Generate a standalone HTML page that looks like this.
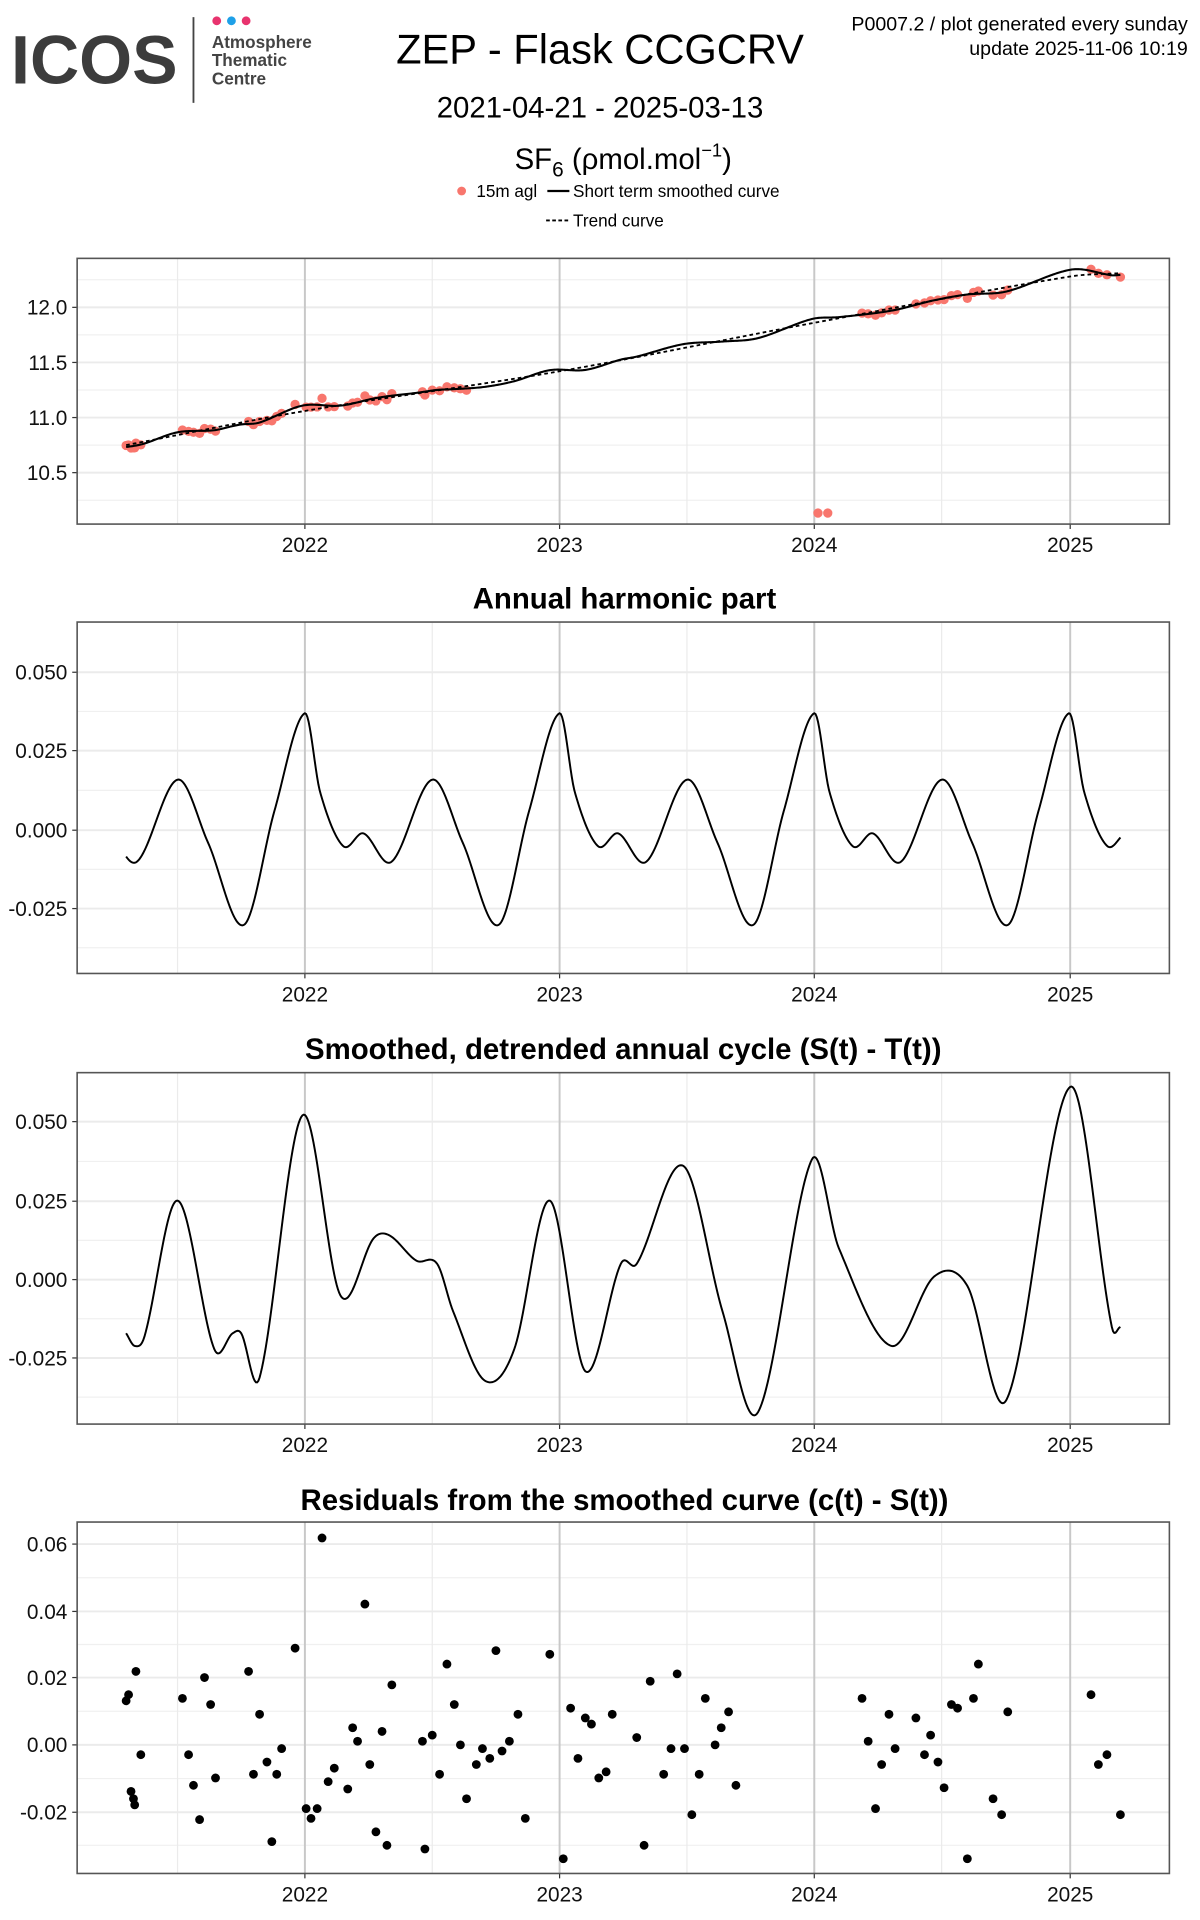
<!DOCTYPE html>
<html><head><meta charset="utf-8"><style>
html,body{margin:0;padding:0;background:#fff;}
svg{display:block;font-family:"Liberation Sans",Arial,sans-serif;}
</style></head><body>
<svg id="s" width="1200" height="1920" viewBox="0 0 980 1568" preserveAspectRatio="none" xmlns="http://www.w3.org/2000/svg">
<rect width="980" height="1568" fill="#fff"/>
<!-- header -->
<text x="9" y="68" font-size="56" font-weight="bold" fill="#3c3c3c" textLength="136" lengthAdjust="spacingAndGlyphs">ICOS</text>
<line x1="158" y1="14" x2="158" y2="84" stroke="#444" stroke-width="1.5"/>
<circle cx="177" cy="17" r="3.6" fill="#e8336e"/><circle cx="189" cy="17" r="3.6" fill="#1ea0e8"/><circle cx="201" cy="17" r="3.6" fill="#e8336e"/>
<text font-size="14" font-weight="bold" fill="#444"><tspan x="173" y="39">Atmosphere</tspan><tspan x="173" y="54">Thematic</tspan><tspan x="173" y="69">Centre</tspan></text>
<text x="490" y="52" font-size="34" text-anchor="middle">ZEP - Flask CCGCRV</text>
<text x="490" y="96" font-size="24" text-anchor="middle">2021-04-21 - 2025-03-13</text>
<text x="509" y="138" font-size="24" text-anchor="middle">SF<tspan font-size="17" dy="6">6</tspan><tspan dy="-6"> (ρmol.mol</tspan><tspan font-size="15" dy="-10">−1</tspan><tspan dy="10">)</tspan></text>
<circle cx="377" cy="156" r="3.6" fill="#f8766d"/>
<text x="389" y="161" font-size="14">15m agl</text>
<line x1="447" y1="156" x2="465" y2="156" stroke="#000" stroke-width="1.8"/>
<text x="468" y="161" font-size="14">Short term smoothed curve</text>
<line x1="446" y1="180" x2="465" y2="180" stroke="#000" stroke-width="1.5" stroke-dasharray="3,2"/>
<text x="468" y="185" font-size="14">Trend curve</text>
<text x="970" y="25" font-size="16" text-anchor="end">P0007.2 / plot generated every sunday</text>
<text x="970" y="45" font-size="16" text-anchor="end">update  2025-11-06 10:19</text>
<!-- panel titles -->
<text x="510" y="497" font-size="24" font-weight="bold" text-anchor="middle">Annual harmonic part</text>
<text x="509" y="865" font-size="24" font-weight="bold" text-anchor="middle">Smoothed, detrended annual cycle (S(t) - T(t))</text>
<text x="510" y="1233" font-size="24" font-weight="bold" text-anchor="middle">Residuals from the smoothed curve (c(t) - S(t))</text>
<g id="g"></g>
</svg>
<script>
var NS="http://www.w3.org/2000/svg",G=document.getElementById("g");
function el(t,a,txt){var e=document.createElementNS(NS,t);for(var k in a)e.setAttribute(k,a[k]);if(txt!=null)e.textContent=txt;G.appendChild(e);return e;}
var yrs={2022:249,2023:457,2024:665,2025:874};
function panel(top,bot,ticks,minors){
  el("rect",{x:63,y:top,width:892,height:bot-top,fill:"#fff"});
  minors.forEach(function(y){el("line",{x1:63,x2:955,y1:y,y2:y,stroke:"#f0f0f0","stroke-width":1});});
  [145,353,561,769].forEach(function(x){el("line",{x1:x,x2:x,y1:top,y2:bot,stroke:"#ebebeb","stroke-width":1});});
  ticks.forEach(function(t){el("line",{x1:63,x2:955,y1:t[1],y2:t[1],stroke:"#ebebeb","stroke-width":1.6});
    el("line",{x1:59,x2:63,y1:t[1],y2:t[1],stroke:"#333"});
    el("text",{x:55,y:t[1]+6,"font-size":17,"text-anchor":"end",fill:"#111"},t[0]);});
  for(var y in yrs){var x=yrs[y];el("line",{x1:x,x2:x,y1:top,y2:bot,stroke:"#c8c8c8","stroke-width":1.6});
    el("line",{x1:x,x2:x,y1:bot,y2:bot+4,stroke:"#333"});
    el("text",{x:x,y:bot+23,"font-size":17,"text-anchor":"middle",fill:"#111"},y);}
}
function frame(top,bot){el("rect",{x:63,y:top,width:892,height:bot-top,fill:"none",stroke:"#555","stroke-width":1.3});}
function cr(pts,x){
  for(var i=0;i<pts.length-1;i++){if(x<=pts[i+1][0])break;}
  if(i>=pts.length-1)i=pts.length-2;
  var p0=pts[Math.max(i-1,0)],p1=pts[i],p2=pts[i+1],p3=pts[Math.min(i+2,pts.length-1)];
  var t=(x-p1[0])/(p2[0]-p1[0]);t=Math.max(0,Math.min(1,t));
  var m1=(p2[1]-p0[1])/(p2[0]-p0[0])*(p2[0]-p1[0]),m2=(p3[1]-p1[1])/(p3[0]-p1[0])*(p2[0]-p1[0]);
  var t2=t*t,t3=t2*t;return (2*t3-3*t2+1)*p1[1]+(t3-2*t2+t)*m1+(-2*t3+3*t2)*p2[1]+(t3-t2)*m2;
}
function path(f,y0,sc,dash,w){var d="";for(var x=103;x<=915;x+=1){d+=(x==103?"M":"L")+x+","+(y0-f(x)*sc).toFixed(2);}
  var a={d:d,fill:"none",stroke:"#000","stroke-width":w||1.6};if(dash)a["stroke-dasharray"]=dash;el("path",a);}
var hk=[[0,.037],[.06,.012],[.15,-.005],[.23,-.001],[.34,-.010],[.5,.016],[.62,-.004],[.76,-.030],[.88,.006],[1,.037]];
var hp=[];for(var c=-1;c<=5;c++)hk.forEach(function(p){hp.push([(2021+c+p[0]-2022)*208+249,p[1]]);});
hp=hp.filter(function(p,i){return i==0||p[0]>hp[i-1][0];});
function harm(x){return cr(hp,x);}
var dk=[[103,-.017],[110,-.021],[118,-.018],[145,.025],[175,-.022],[190,-.017],[197,-.017],[212,-.031],[247,.052],[278,-.005],[305,.013],[318,.014],[340,.006],[357,.005],[370,-.010],[396,-.032],[420,-.022],[449,.025],[478,-.029],[507,.005],[520,.005],[558,.036],[590,-.010],[619,-.042],[663,.038],[685,.010],[728,-.021],[763,.001],[790,-.002],[822,-.038],[874,.061],[908,-.015],[915,-.015]];
function det(x){return cr(dk,x);}
var tk=[[103,10.75],[249,11.06],[457,11.42],[665,11.86],[874,12.28],[915,12.31]];
function trend(x){return cr(tk,x);}
function smooth(x){return trend(x)+det(x);}
panel(211,428,[["12.0",251],["11.5",296],["11.0",341],["10.5",386]],[228.5,273.5,318.5,363.5,408.5]);
var R=[[103,1389],[105,1384],[107,1463],[109,1469],[110,1474],[111,1365],[115,1433],[149,1387],[154,1433],[158,1458],[163,1486],[167,1370],[172,1392],[176,1452],[203,1365],[207,1449],[212,1400],[218,1439],[222,1504],[226,1449],[230,1428],[241,1346],[250,1477],[254,1485],[259,1477],[263,1256],[268,1455],[273,1444],[284,1461],[288,1411],[292,1422],[298,1310],[302,1441],[307,1496],[312,1414],[316,1507],[320,1376],[345,1422],[347,1510],[353,1417],[359,1449],[365,1359],[371,1392],[376,1425],[381,1469],[389,1441],[394,1428],[400,1436],[405,1348],[410,1430],[416,1422],[423,1400],[429,1485],[449,1351],[460,1518],[466,1395],[472,1436],[478,1403],[483,1408],[489,1452],[495,1447],[500,1400],[520,1419],[526,1507],[531,1373],[542,1449],[548,1428],[553,1367],[559,1428],[565,1482],[571,1449],[576,1387],[584,1425],[589,1411],[595,1398],[601,1458],[704,1387],[709,1422],[715,1477],[720,1441],[726,1400],[731,1428],[748,1403],[755,1433],[760,1417],[766,1439],[771,1460],[777,1392],[782,1395],[790,1518],[795,1387],[799,1359],[811,1469],[818,1482],[823,1398],[891,1384],[897,1441],[904,1433],[915,1482]];
function y1(v){return 341-(v-11)*90;}
R.forEach(function(p){if(p[0]<=385||p[0]>=700){var v=smooth(p[0])+(1425-p[1])/2730;el("circle",{cx:p[0],cy:y1(v).toFixed(1),r:3.8,fill:"#f8766d"});}});
el("circle",{cx:668,cy:419,r:3.8,fill:"#f8766d"});el("circle",{cx:676,cy:419,r:3.8,fill:"#f8766d"});
path(function(x){return smooth(x)-11;},341,90,null,1.7);
path(function(x){return trend(x)-11;},341,90,"3,2.5",1.5);
frame(211,428);
panel(508,795,[["0.050",549],["0.025",613],["0.000",678],["-0.025",742]],[581,645.5,710,774]);
path(harm,678,2580,null,1.6);frame(508,795);
panel(876,1163,[["0.050",916],["0.025",981],["0.000",1045],["-0.025",1109]],[948.5,1013,1077,1141]);
path(det,1045,2580,null,1.6);frame(876,1163);
panel(1243,1530,[["0.06",1261],["0.04",1316],["0.02",1370],["0.00",1425],["-0.02",1480]],[1288.5,1343,1397.5,1452.5,1507]);
R.forEach(function(p){el("circle",{cx:p[0],cy:p[1],r:3.6,fill:"#000"});});
frame(1243,1530);
</script>
</body></html>
